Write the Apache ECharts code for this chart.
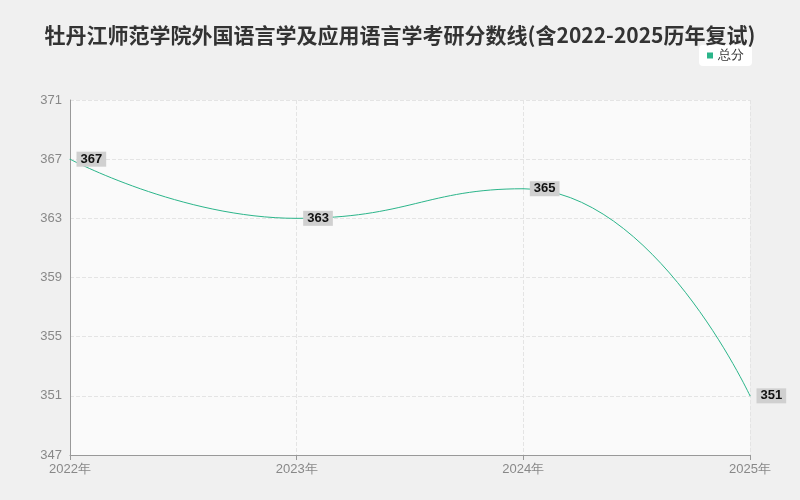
<!DOCTYPE html><html><head><meta charset="utf-8"><script src="https://cdn.jsdelivr.net/npm/echarts@6/dist/echarts.min.js"></script></head><body style="margin:0;background:#f0f0f0"><div id="c" style="width:800px;height:500px"></div><script>
const years=['2022年','2023年','2024年','2025年'];
const scores=[367,363,365,351];
const yTicks={min:347,max:371,interval:4};
const ch=echarts.init(document.getElementById('c'));
ch.setOption({backgroundColor:'#f0f0f0',
title:{text:'牡丹江师范学院外国语言学及应用语言学考研分数线(含2022-2025历年复试)',left:'center',top:20,textStyle:{fontSize:21,fontWeight:'bold',color:'#333',fontFamily:'Noto Sans CJK SC'}},
legend:{data:['总分'],right:48,top:45,backgroundColor:'#fff',borderRadius:4,padding:[4,8],itemWidth:6,itemHeight:6,icon:'rect',textStyle:{fontSize:13,color:'#333'}},
grid:{left:70,right:50,top:100,bottom:45,backgroundColor:'#fafafa',show:true,borderWidth:0},
xAxis:{type:'category',data:years,boundaryGap:false,axisLine:{lineStyle:{color:'#999'}},axisTick:{show:true},axisLabel:{color:'#888',fontSize:13},splitLine:{show:true,lineStyle:{type:'dashed',color:'#e4e4e4'}}},
yAxis:{type:'value',min:yTicks.min,max:yTicks.max,interval:yTicks.interval,axisLine:{show:true,lineStyle:{color:'#999'}},axisLabel:{color:'#888',fontSize:13},splitLine:{lineStyle:{type:'dashed',color:'#e4e4e4'}}},
series:[{name:'总分',type:'line',smooth:0.5,data:scores,symbol:'circle',symbolSize:1,lineStyle:{color:'#2bb58a',width:1},itemStyle:{color:'#2bb58a'},
label:{show:true,position:'right',distance:6,color:'#111',fontSize:13,fontWeight:'bold',backgroundColor:'#d0d0d0',padding:[1,4]}}]});
</script></body></html>
